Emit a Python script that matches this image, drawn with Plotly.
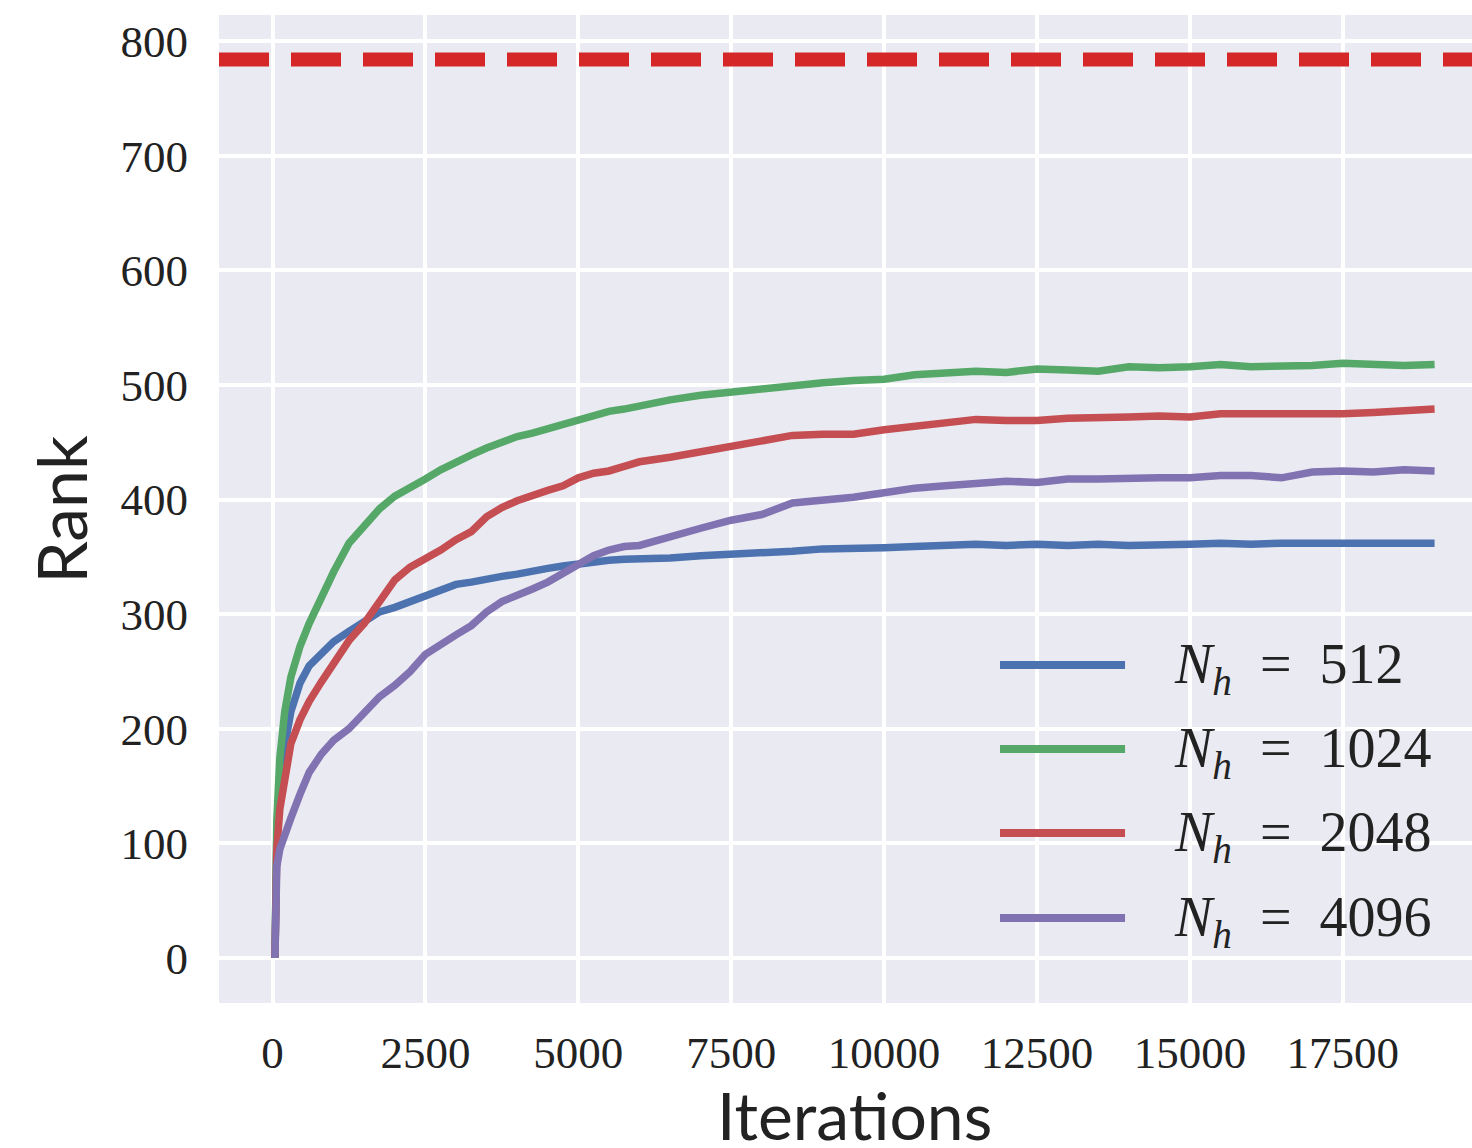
import plotly.graph_objects as go

# Training iterations at which the rank was recorded
iterations = [40, 70, 120, 200, 300, 450, 600, 800, 1000, 1250, 1500, 1750, 2000, 2250,
              2500, 2750, 3000, 3250, 3500, 3750, 4000, 4250, 4500, 4750, 5000, 5250,
              5500, 5750, 6000, 6500, 7000, 7500, 8000, 8500, 9000, 9500, 10000, 10500,
              11000, 11500, 12000, 12500, 13000, 13500, 14000, 14500, 15000, 15500,
              16000, 16500, 17000, 17500, 18000, 18500, 19000]

rank_512 = [0, 105, 150, 185, 215, 240, 255, 266, 276, 285, 293, 302, 306, 311,
            316, 321, 326, 328, 331, 333, 335, 338, 340, 342, 344, 345,
            347, 348, 348, 349, 351, 352, 354, 355, 357, 357, 358, 359,
            360, 361, 360, 361, 360, 361, 360, 360, 361, 362,
            361, 362, 362, 363, 363, 363, 362]

rank_1024 = [0, 120, 175, 215, 245, 272, 292, 316, 337, 362, 378, 392, 403, 410,
             418, 426, 433, 439, 445, 450, 455, 458, 462, 465, 470, 473,
             477, 479, 482, 487, 491, 494, 496, 499, 502, 504, 505, 509,
             510, 512, 511, 514, 513, 512, 516, 515, 516, 518,
             516, 516, 517, 519, 518, 517, 518]

rank_2048 = [0, 95, 130, 160, 187, 208, 224, 241, 256, 277, 292, 311, 330, 341,
             348, 356, 365, 372, 385, 393, 399, 404, 408, 412, 419, 423,
             425, 429, 433, 437, 442, 446, 452, 456, 457, 457, 461, 464,
             467, 470, 469, 469, 471, 471, 472, 473, 472, 475,
             475, 475, 474, 475, 476, 478, 479]

rank_4096 = [0, 80, 95, 108, 122, 143, 162, 178, 190, 200, 214, 228, 238, 250,
             265, 274, 282, 290, 302, 311, 316, 322, 328, 336, 343, 351,
             356, 359, 360, 368, 375, 382, 387, 397, 399, 402, 406, 410,
             412, 414, 416, 415, 418, 418, 419, 419, 419, 421,
             421, 419, 424, 425, 424, 426, 425]

input_dim = 784

series_names = ["512", "1024", "2048", "4096"]
series_values = [rank_512, rank_1024, rank_2048, rank_4096]
series_colors = ["#4C72B0", "#55A868", "#C44E52", "#8172B2"]

x_ticks = [0, 2500, 5000, 7500, 10000, 12500, 15000, 17500]
y_ticks = [0, 100, 200, 300, 400, 500, 600, 700, 800]

fig = go.Figure()
for name, vals, col in zip(series_names, series_values, series_colors):
    fig.add_trace(go.Scatter(x=iterations, y=vals, mode="lines", name=name,
                             line=dict(color=col, width=7.5), showlegend=False))

# Dashed reference at the input dimension
fig.add_shape(type="line", xref="paper", x0=0, x1=1, yref="y", y0=input_dim, y1=input_dim,
              line=dict(color="#D62728", width=14, dash="50px,22px"))

# Legend drawn by hand: long line samples with serif math-style labels
legend_y = [0.3421, 0.2571, 0.1721, 0.0860]
for name, col, ly in zip(series_names, series_colors, legend_y):
    fig.add_shape(type="line", xref="paper", yref="paper", x0=0.6233, x1=0.7231,
                  y0=ly, y1=ly, line=dict(color=col, width=8))
    fig.add_annotation(xref="paper", yref="paper", x=0.7606, y=ly - 0.003, xanchor="left",
                       yanchor="middle", showarrow=False,
                       text=f"<i>N</i><sub><i>h</i></sub>\u2002=\u2002{name}",
                       font=dict(family="Liberation Serif", size=56, color="#222222"))

# Axis titles
fig.add_annotation(xref="paper", yref="paper", x=0.507, y=-0.071, xanchor="center",
                   yanchor="top", showarrow=False, text="Iterations",
                   font=dict(family="Lato", size=66, color="#222222"))
fig.add_annotation(xref="paper", yref="paper", x=-0.127, y=0.5, xanchor="center",
                   yanchor="middle", showarrow=False, text="Rank", textangle=-90,
                   font=dict(family="Lato", size=68, color="#222222"))

axis_common = dict(showline=False, zeroline=False, ticks="", showgrid=True,
                   gridcolor="white", gridwidth=3.5,
                   tickfont=dict(family="Liberation Serif", size=45, color="#222222"))

fig.update_xaxes(range=[-875, 19612], tickvals=x_ticks,
                 ticktext=[str(v) for v in x_ticks], ticklabelstandoff=19, **axis_common)
fig.update_yaxes(range=[-39.3, 822.9], tickvals=y_ticks,
                 ticktext=[str(v) for v in y_ticks], ticklabelstandoff=30, **axis_common)

fig.update_layout(width=1472, height=1148, margin=dict(l=219, r=0, t=15, b=145),
                  plot_bgcolor="#EAEAF2", paper_bgcolor="white")

fig.write_html("out.html")
